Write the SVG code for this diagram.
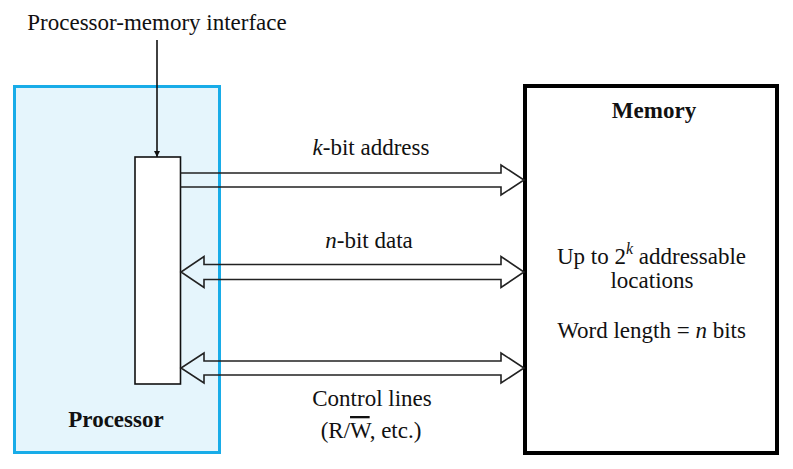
<svg xmlns="http://www.w3.org/2000/svg" width="793" height="469" viewBox="0 0 793 469">
  <defs>
    <style>
      .t { font-family: 'Liberation Serif', 'DejaVu Serif', serif; font-size: 23px; fill: #111; }
      .c { text-anchor: middle; }
      .b { font-weight: bold; }
      .i { font-style: italic; }
      .bus { fill: none; stroke: #222; stroke-width: 1.6; stroke-linejoin: miter; }
    </style>
    <marker id="ah" viewBox="0 0 10 10" refX="10" refY="5" markerWidth="6" markerHeight="10" markerUnits="userSpaceOnUse" orient="auto">
      <path d="M0,0 L10,5 L0,10 Z" fill="#111"/>
    </marker>
  </defs>
  <rect width="793" height="469" fill="#fff"/>

  <g id="processor">
    <rect x="14.5" y="86.5" width="205" height="366" fill="#E5F5FC" stroke="#18ACE8" stroke-width="3"/>
    <text x="116" y="427" class="t c b" font-family="Liberation Serif, DejaVu Serif, serif">Processor</text>
  </g>

  <g id="memory">
    <rect x="525" y="86" width="252" height="367" fill="#fff" stroke="#000" stroke-width="4"/>
    <text x="654" y="118" class="t c b" font-family="Liberation Serif, DejaVu Serif, serif">Memory</text>
    <text x="651.5" y="264" class="t c" font-family="Liberation Serif, DejaVu Serif, serif">Up to 2<tspan class="i" font-size="16" dy="-10">k</tspan><tspan dy="10"> addressable</tspan></text>
    <text x="652" y="288" class="t c" font-family="Liberation Serif, DejaVu Serif, serif">locations</text>
    <text x="651.5" y="338" class="t c" font-family="Liberation Serif, DejaVu Serif, serif">Word length = <tspan class="i">n</tspan> bits</text>
  </g>

  <g id="interface">
    <rect x="135" y="157" width="45.5" height="227" fill="#fff" stroke="#111" stroke-width="1.6"/>
    <text x="157" y="30" class="t c" font-family="Liberation Serif, DejaVu Serif, serif">Processor-memory interface</text>
  </g>

  <g id="connectors">
    <line x1="157" y1="40" x2="157" y2="157" stroke="#111" stroke-width="1.6" marker-end="url(#ah)"/>
    <path class="bus" d="M180.5,173 H501 V165 L524,180 L501,195 V187 H180.5"/>
    <path class="bus" d="M204,264.5 H501 V256.5 L524,272 L501,287.5 V279.5 H204 V287.5 L181,272 L204,256.5 Z"/>
    <path class="bus" d="M204,361 H501 V353 L524,368 L501,383 V375 H204 V383 L181,368 L204,353 Z"/>
    <text x="371" y="155" class="t c" font-family="Liberation Serif, DejaVu Serif, serif"><tspan class="i">k</tspan>-bit address</text>
    <text x="369" y="248" class="t c" font-family="Liberation Serif, DejaVu Serif, serif"><tspan class="i">n</tspan>-bit data</text>
    <text x="372" y="406" class="t c" font-family="Liberation Serif, DejaVu Serif, serif">Control lines</text>
    <text x="371" y="438" class="t c" font-family="Liberation Serif, DejaVu Serif, serif">(R/<tspan text-decoration="overline">W</tspan>, etc.)</text>
  </g>
</svg>
